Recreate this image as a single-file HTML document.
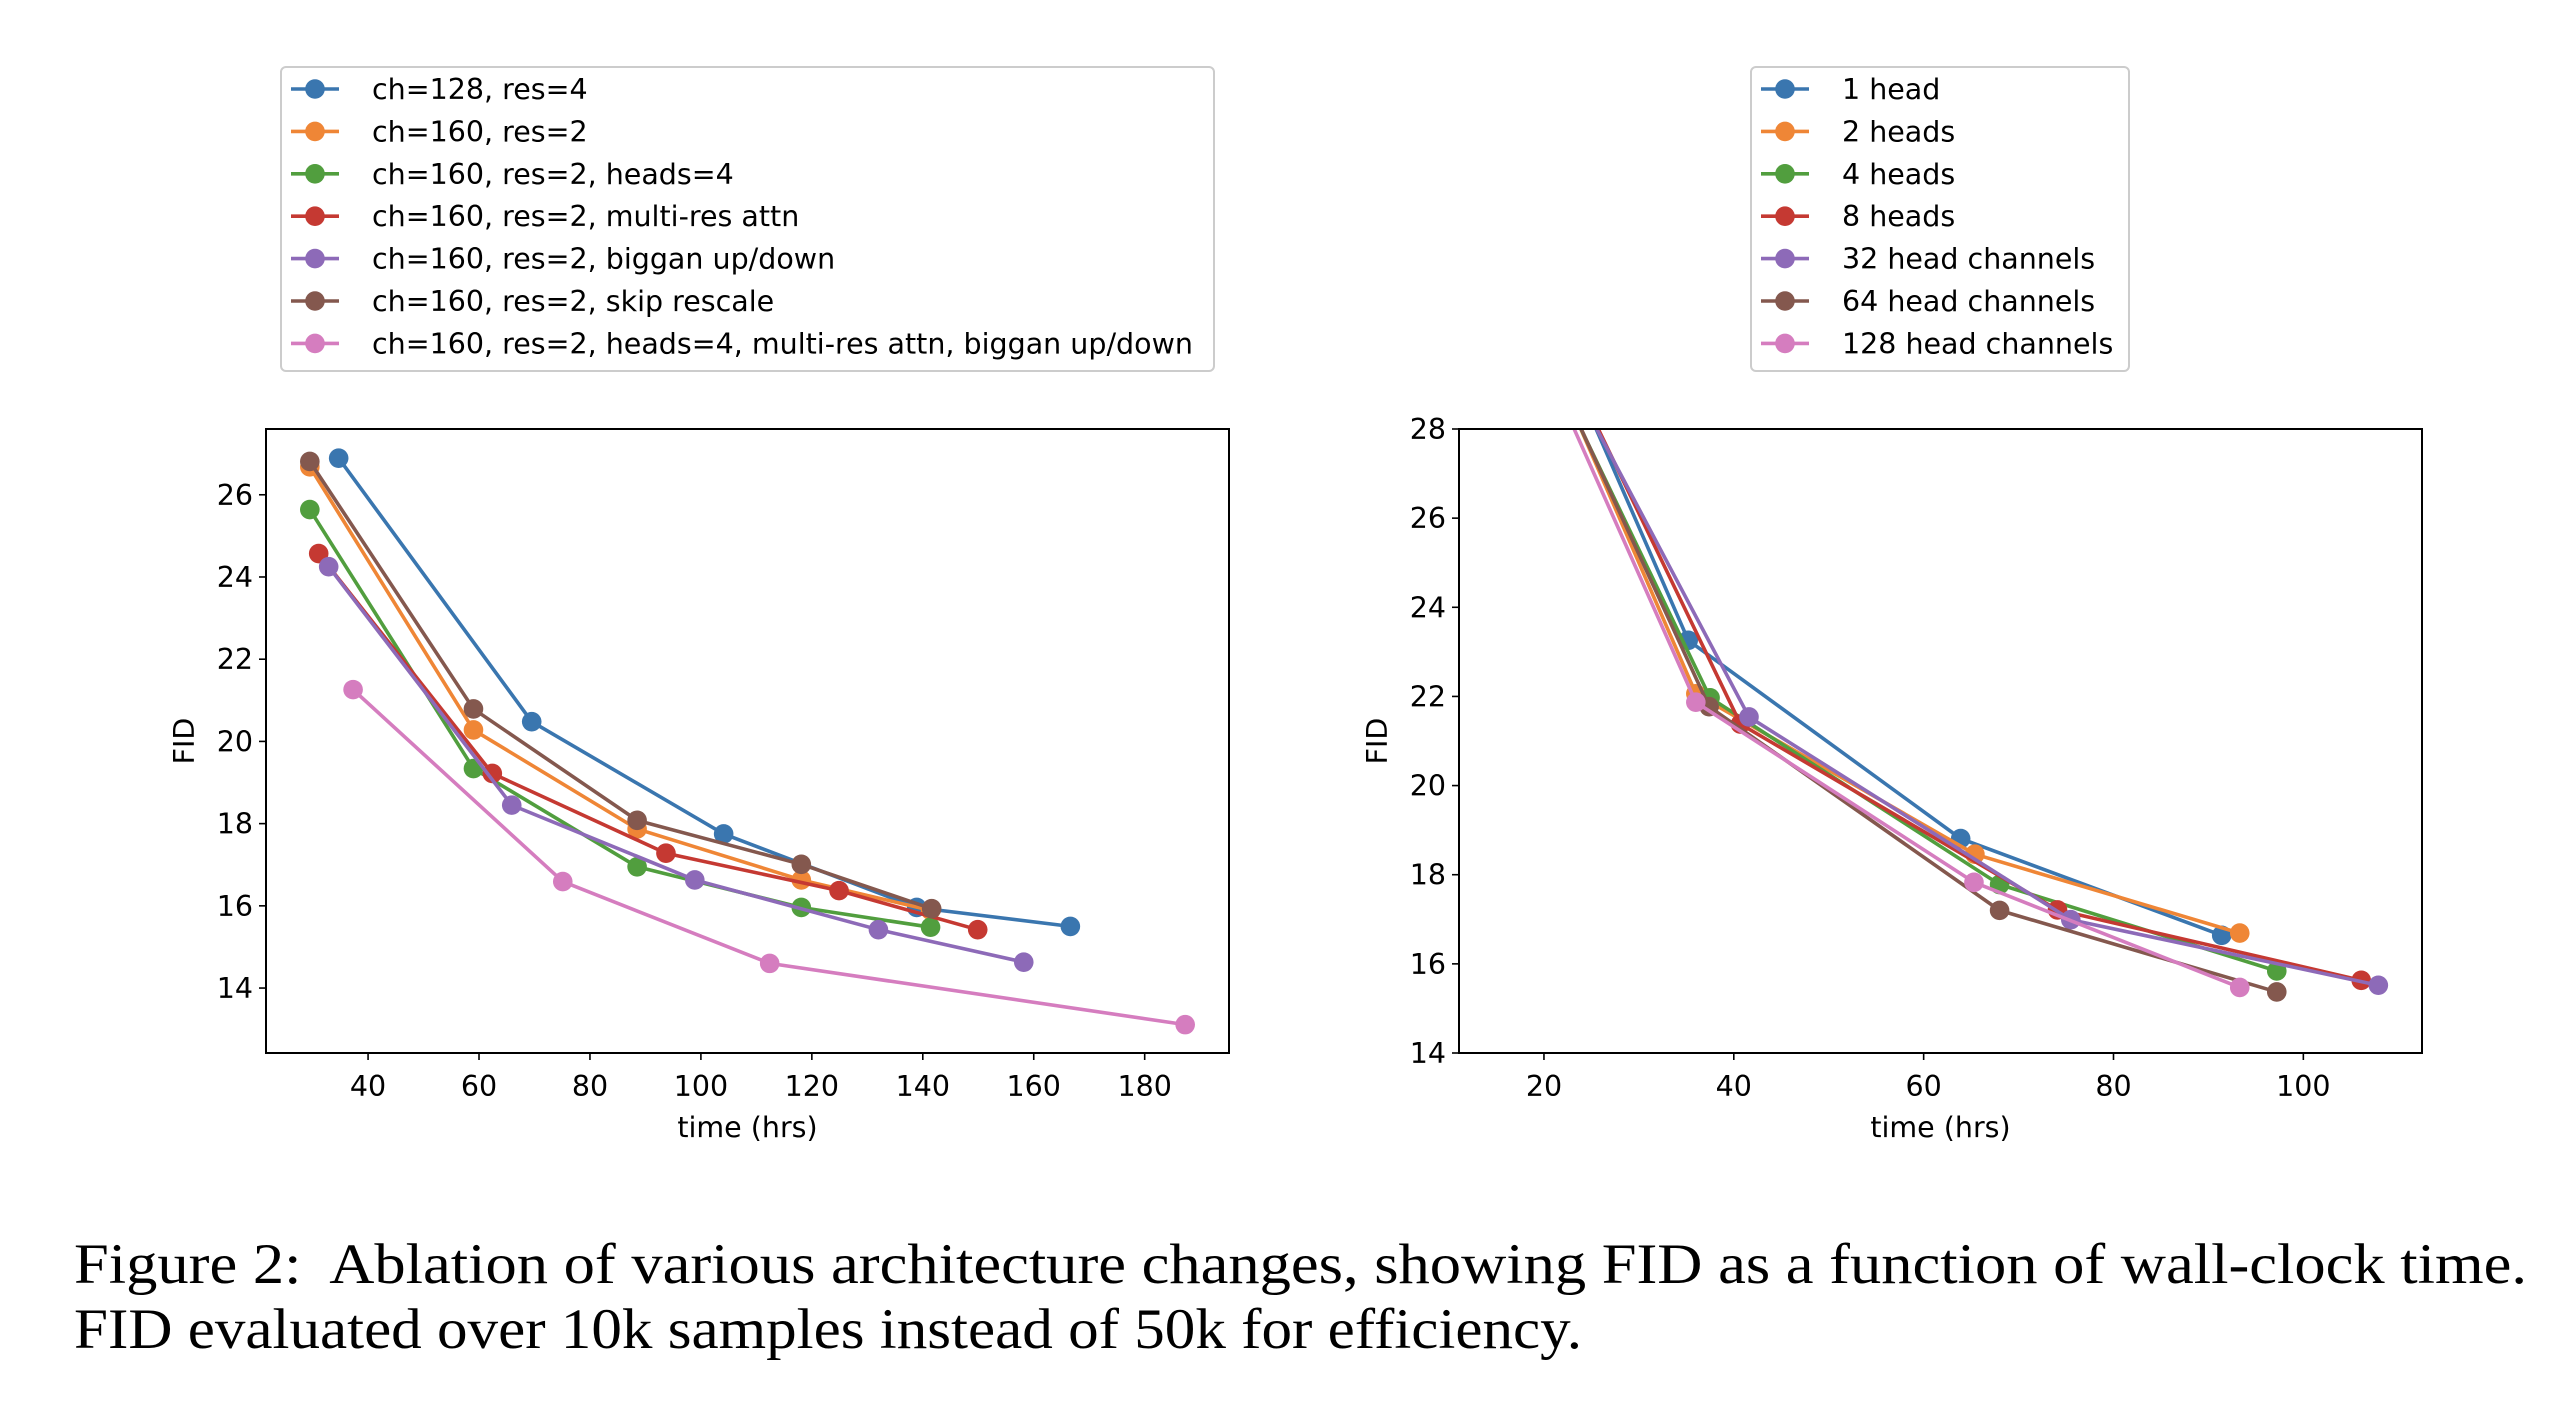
<!DOCTYPE html>
<html><head><meta charset="utf-8"><style>
html,body{margin:0;padding:0;background:#fff;}
svg{display:block;font-family:"DejaVu Sans","Liberation Sans",sans-serif;}
</style></head><body>
<svg id="fig" width="2576" height="1408" viewBox="0 0 2576 1408" xmlns="http://www.w3.org/2000/svg">
<text x="74" y="1283" font-family="Liberation Serif, serif" font-size="57" fill="#000" textLength="2453" lengthAdjust="spacingAndGlyphs" xml:space="preserve">Figure 2:  Ablation of various architecture changes, showing FID as a function of wall-clock time.</text>
<text x="74" y="1348" font-family="Liberation Serif, serif" font-size="57" fill="#000" textLength="1508" lengthAdjust="spacingAndGlyphs">FID evaluated over 10k samples instead of 50k for efficiency.</text>
</svg>
<script>
const colors=["#3a76af","#ef8636","#519e3e","#c53932","#8d6ab8","#84584e","#d57dbf"];
// Left chart data
const leftNames=["ch=128, res=4","ch=160, res=2","ch=160, res=2, heads=4","ch=160, res=2, multi-res attn","ch=160, res=2, biggan up/down","ch=160, res=2, skip rescale","ch=160, res=2, heads=4, multi-res attn, biggan up/down"];
const leftX=[[34.7,69.5,104.1,138.9,166.6],[29.5,59.0,88.5,118.1,141.4],[29.5,59.0,88.5,118.1,141.4],[31.1,62.4,93.7,124.9,149.9],[32.9,65.9,98.9,132.0,158.2],[29.5,59.0,88.5,118.1,141.6],[37.3,75.1,112.4,187.3]];
const leftY=[[26.89,20.48,17.75,15.96,15.50],[26.68,20.28,17.87,16.63,15.89],[25.64,19.34,16.95,15.96,15.48],[24.57,19.22,17.28,16.37,15.42],[24.25,18.45,16.63,15.42,14.63],[26.81,20.79,18.08,17.01,15.93],[21.26,16.59,14.60,13.11]];
const leftXTicks=[40,60,80,100,120,140,160,180];
const leftYTicks=[14,16,18,20,22,24,26];
// Right chart data
const rightNames=["1 head","2 heads","4 heads","8 heads","32 head channels","64 head channels","128 head channels"];
const rightX=[[21.4,35.2,63.9,91.4],[19.8,36.0,65.4,93.3],[19.4,37.5,68.0,97.2],[21.2,40.7,74.1,106.1],[20.6,41.6,75.5,107.9],[19.6,37.4,68.0,97.2],[19.0,36.0,65.3,93.3]];
const rightY=[[30,23.26,18.81,16.64],[30,22.06,18.46,16.69],[30,21.97,17.78,15.84],[30,21.38,17.21,15.63],[30,21.54,16.99,15.52],[30,21.77,17.20,15.37],[30,21.87,17.83,15.47]];
const rightXTicks=[20,40,60,80,100];
const rightYTicks=[14,16,18,20,22,24,26,28];

const NS="http://www.w3.org/2000/svg";
const svg=document.getElementById('fig');
const FS=28.5;
function mk(t,a,p){const e=document.createElementNS(NS,t);for(const k in a)e.setAttribute(k,a[k]);(p||svg).appendChild(e);return e;}

function chart(id,box,xlim,ylim,xs,ys,xt,yt,names,leg){
  const g=mk('g',{});
  
  
  const sx=v=>box.x0+(v-xlim[0])/(xlim[1]-xlim[0])*(box.x1-box.x0);
  const sy=v=>box.y1-(v-ylim[0])/(ylim[1]-ylim[0])*(box.y1-box.y0);
  const cid=id+'-clip';
  const defs=mk('defs',{},g);const cp=mk('clipPath',{id:cid},defs);
  mk('rect',{x:box.x0,y:box.y0,width:box.x1-box.x0,height:box.y1-box.y0},cp);
  const plot=mk('g',{'clip-path':'url(#'+cid+')'},g);
  xs.forEach((xa,i)=>{
    const pts=xa.map((x,j)=>sx(x)+','+sy(ys[i][j])).join(' ');
    const l=mk('polyline',{points:pts,fill:'none',stroke:colors[i],'stroke-width':3.6,'stroke-linejoin':'round'},plot);
    
    
    xa.forEach((x,j)=>{
      const c=mk('circle',{cx:sx(x),cy:sy(ys[i][j]),r:9.8,fill:colors[i]},plot);
      
      
    });
  });
  const fr=mk('rect',{x:box.x0,y:box.y0,width:box.x1-box.x0,height:box.y1-box.y0,fill:'none',stroke:'#000','stroke-width':2},g);
  
  
  xt.forEach(v=>{
    const x=sx(v);
    mk('line',{x1:x,x2:x,y1:box.y1,y2:box.y1+7,stroke:'#000','stroke-width':1.6},g);
    const t=mk('text',{x:x,y:box.y1+43,'text-anchor':'middle','font-size':FS},g);
    t.textContent=v;
    
    
  });
  yt.forEach(v=>{
    const y=sy(v);
    mk('line',{x1:box.x0-7,x2:box.x0,y1:y,y2:y,stroke:'#000','stroke-width':1.6},g);
    const t=mk('text',{x:box.x0-13,y:y+10,'text-anchor':'end','font-size':FS},g);
    t.textContent=v;
    
    
  });
  const xl=mk('text',{x:(box.x0+box.x1)/2,y:box.y1+84,'text-anchor':'middle','font-size':FS},g);
  xl.textContent='time (hrs)';
  
  
  const yx=box.x0-72,yy=(box.y0+box.y1)/2;
  const yl=mk('text',{x:yx,y:yy,'text-anchor':'middle','font-size':FS,transform:'rotate(-90 '+yx+' '+yy+')'},g);
  yl.textContent='FID';
  
  
  const lg=mk('g',{},g);
  
  
  mk('rect',{x:leg.x,y:leg.y,width:leg.w,height:leg.h,rx:5,fill:'#fff',stroke:'#cccccc','stroke-width':2},lg);
  names.forEach((n,i)=>{
    const y=leg.y+22+i*42.4;
    const e=mk('g',{},lg);
    
    
    mk('line',{x1:leg.x+10,x2:leg.x+58,y1:y,y2:y,stroke:colors[i],'stroke-width':3.6},e);
    mk('circle',{cx:leg.x+34,cy:y,r:9.8,fill:colors[i]},e);
    const t=mk('text',{x:leg.x+91,y:y+10,'font-size':FS},e);
    t.textContent=n;
  });
}
chart('left-chart',{x0:266,x1:1229,y0:429,y1:1053},[21.6,195.2],[12.42,27.6],leftX,leftY,leftXTicks,leftYTicks,leftNames,{x:281,y:67,w:933,h:304});
chart('right-chart',{x0:1459,x1:2422,y0:429,y1:1053},[11.05,112.5],[14,28],rightX,rightY,rightXTicks,rightYTicks,rightNames,{x:1751,y:67,w:378,h:304});
</script>
</body></html>
